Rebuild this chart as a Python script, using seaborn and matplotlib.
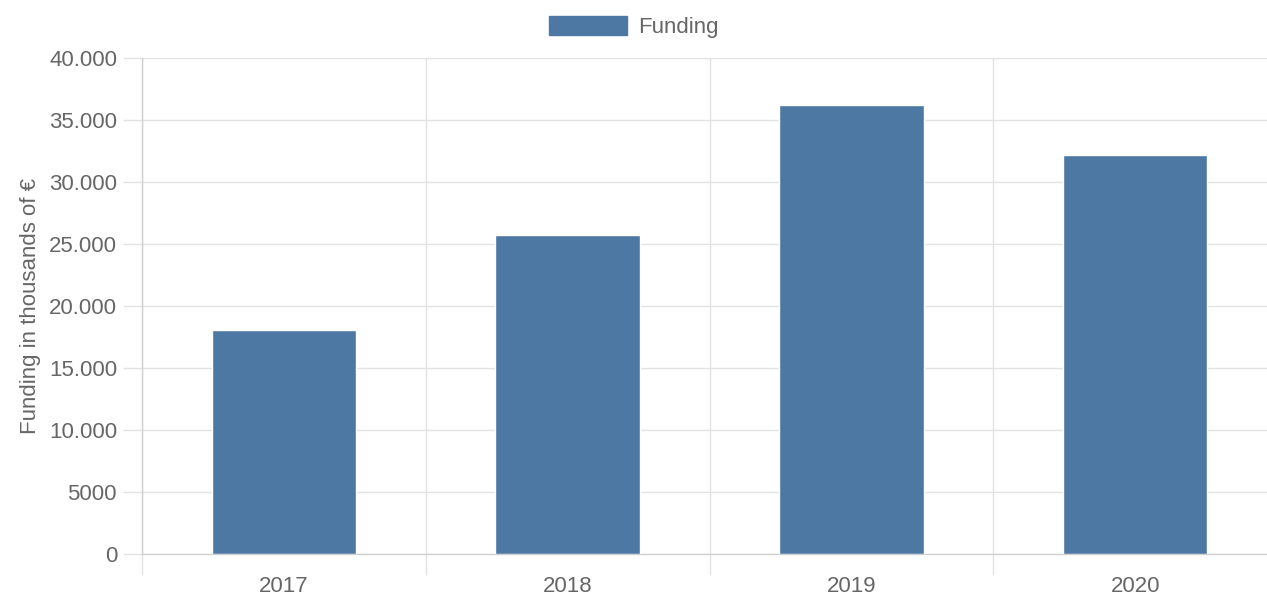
import matplotlib
matplotlib.use("Agg")
import matplotlib.pyplot as plt
import seaborn as sns
import pandas as pd
from matplotlib.patches import Patch

# data
years = ["2017", "2018", "2019", "2020"]
funding = [18050, 25700, 36200, 32150]
y_ticks = [0, 5000, 10000, 15000, 20000, 25000, 30000, 35000, 40000]
y_labels = ["0", "5000", "10.000", "15.000", "20.000", "25.000", "30.000", "35.000", "40.000"]

bar_color = "#4d78a4"
grid_color = "#e2e2e2"
text_color = "#666666"
fs = 16

sns.set_theme(style="white")
plt.rcParams["font.family"] = ["Liberation Sans", "DejaVu Sans"]

df = pd.DataFrame({"year": years, "funding": funding})

fig = plt.figure(figsize=(12.67, 5.99), dpi=100)
ax = fig.add_axes([142 / 1267, 0.0751, 1135 / 1267, 0.8281])

sns.barplot(data=df, x="year", y="funding", color=bar_color, width=0.51,
            saturation=1, ax=ax, zorder=3)

ax.set_ylim(0, 40000)
ax.set_xlim(-0.5, 3.5)
ax.set_yticks(y_ticks)
ax.set_yticklabels(y_labels)
ax.set_xticks(range(len(years)))
ax.set_xticklabels(years)
ax.set_xticks([-0.5, 0.5, 1.5, 2.5, 3.5], minor=True)

ax.tick_params(axis="y", which="major", left=True, length=14, width=1,
               color=grid_color, labelsize=fs, labelcolor=text_color, pad=4)
ax.tick_params(axis="x", which="major", bottom=False, length=0, labelsize=fs,
               labelcolor=text_color, pad=16)
ax.tick_params(axis="x", which="minor", bottom=True, length=15, width=1,
               color=grid_color)

ax.grid(True, axis="y", color=grid_color, linewidth=1, zorder=0)
ax.grid(True, axis="x", which="minor", color=grid_color, linewidth=1, zorder=0)
ax.set_axisbelow(True)

for side in ["top", "right"]:
    ax.spines[side].set_visible(False)
for side in ["left", "bottom"]:
    ax.spines[side].set_color("#d0d0d0")
    ax.spines[side].set_linewidth(1)

ax.set_xlabel("")
ax.set_ylabel("Funding in thousands of €", fontsize=fs, color=text_color, labelpad=6)

handle = Patch(facecolor=bar_color, edgecolor=bar_color, label="Funding")
fig.legend(handles=[handle], loc="upper center", bbox_to_anchor=(0.5, 1.0),
           frameon=False, fontsize=fs, labelcolor=text_color,
           handlelength=3.5, handleheight=0.95, handletextpad=0.5,
           borderaxespad=0.3)

fig.savefig("out.png", dpi=100)
